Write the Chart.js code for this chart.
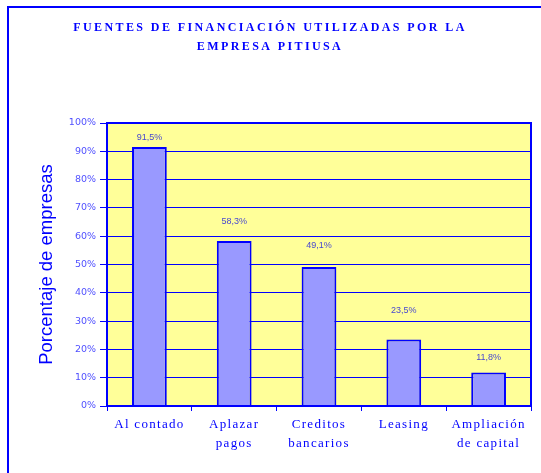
<!DOCTYPE html>
<html>
<head>
<meta charset="utf-8">
<script src="https://cdn.jsdelivr.net/npm/chart.js@4"></script>
<style>
  html, body { margin: 0; padding: 0; background: #fff; }
  #wrap { width: 541px; height: 473px; }
</style>
</head>
<body>
<div id="wrap"><canvas id="bar-chart" width="541" height="473"></canvas></div>
<script>
const titleLines = ['FUENTES DE FINANCIACIÓN UTILIZADAS POR LA', 'EMPRESA PITIUSA'];
const categories = [['Al contado'], ['Aplazar', 'pagos'], ['Creditos', 'bancarios'], ['Leasing'], ['Ampliación', 'de capital']];
const porcentajes = [91.5, 58.3, 49.1, 23.5, 11.8];
const yTicks = [0, 10, 20, 30, 40, 50, 60, 70, 80, 90, 100];
const yTitle = 'Porcentaje de empresas';
// distance from bar top to label (px), Excel put them unevenly
const labelGap = [10, 19, 22, 29, 15];

const azul = '#0000ff';

const fondo = {
    id: 'fondo',
    beforeDraw(chart) {
        const ctx = chart.ctx;
        const a = chart.chartArea;
        ctx.save();
        ctx.fillStyle = '#fff';
        ctx.fillRect(0, 0, chart.width, chart.height);
        // outer frame
        ctx.strokeStyle = azul;
        ctx.lineWidth = 2;
        ctx.strokeRect(8, 7, chart.width + 20, chart.height + 20);
        // plot background
        ctx.fillStyle = '#ffff99';
        ctx.fillRect(a.left, a.top, a.right - a.left, a.bottom - a.top);
        ctx.restore();
    },
    afterLayout(chart) {
        // x labels have that spaced out look in the original
        const s = chart.scales.x;
        if (!s._espaciado) {
            const orig = s.drawLabels.bind(s);
            s.drawLabels = function (area) {
                this.ctx.save();
                this.ctx.letterSpacing = '1.3px';
                orig(area);
                this.ctx.restore();
            };
            s._espaciado = true;
        }
    },
    afterDatasetsDraw(chart) {
        const ctx = chart.ctx;
        const a = chart.chartArea;
        const meta = chart.getDatasetMeta(0);
        ctx.save();
        ctx.strokeStyle = azul;
        ctx.lineWidth = 2;
        ctx.strokeRect(a.left, a.top, a.right - a.left, a.bottom - a.top);
        ctx.font = '9px "Liberation Sans"';
        ctx.fillStyle = '#4848d0';
        ctx.textAlign = 'center';
        ctx.textBaseline = 'middle';
        meta.data.forEach((bar, i) => {
            const txt = porcentajes[i].toFixed(1).replace('.', ',') + '%';
            ctx.fillText(txt, bar.x, bar.y - labelGap[i]);
        });
        // title
        ctx.font = 'bold 12px "Liberation Serif"';
        ctx.fillStyle = azul;
        ctx.letterSpacing = '2.4px';
        titleLines.forEach((t, i) => {
            ctx.fillText(t, 270, 28 + i * 19);
        });
        ctx.restore();
    }
};

new Chart(document.getElementById('bar-chart'), {
    type: 'bar',
    data: {
        labels: categories,
        datasets: [{
            data: porcentajes,
            backgroundColor: '#9999ff',
            borderColor: azul,
            borderWidth: 2,
            categoryPercentage: 1,
            barPercentage: 0.41
        }]
    },
    options: {
        responsive: false,
        animation: false,
        layout: { padding: { top: 123, right: 10, left: 36, bottom: 0 } },
        plugins: {
            legend: { display: false },
            tooltip: { enabled: false }
        },
        scales: {
            x: {
                grid: { drawOnChartArea: false, color: azul, tickLength: 5, lineWidth: 1 },
                border: { color: azul, width: 2 },
                ticks: {
                    color: azul,
                    font: { family: 'Liberation Serif', size: 13, lineHeight: 1.45 },
                    padding: 4,
                    maxRotation: 0,
                    autoSkip: false
                },
                afterFit(scale) { scale.height = 67; }
            },
            y: {
                min: 0,
                max: 100,
                afterBuildTicks(scale) { scale.ticks = yTicks.map(v => ({ value: v })); },
                grid: { color: azul, tickLength: 7, lineWidth: 1 },
                border: { color: azul, width: 2 },
                ticks: {
                    color: '#5050ff',
                    font: { family: 'DejaVu Sans', size: 9.5 },
                    padding: 4,
                    callback: v => v + '%'
                },
                title: {
                    display: true,
                    text: yTitle,
                    color: azul,
                    font: { family: 'Liberation Sans', size: 18.5 },
                    padding: 0
                },
                afterFit(scale) { scale.width = 71; }
            }
        }
    },
    plugins: [fondo]
});
</script>
</body>
</html>
